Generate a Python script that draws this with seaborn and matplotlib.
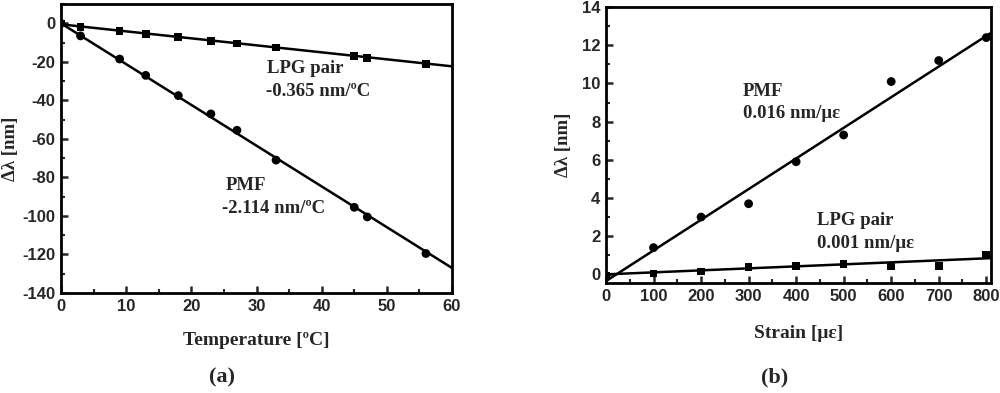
import numpy as np
import pandas as pd
import matplotlib
matplotlib.use("Agg")
import matplotlib.pyplot as plt
from matplotlib.ticker import MultipleLocator
import seaborn as sns

sns.set_style("ticks")
plt.rcParams['font.family'] = ['Liberation Sans', 'DejaVu Sans']
plt.rcParams['axes.unicode_minus'] = False

# (a) temperature response
temp = [0, 3, 9, 13, 18, 23, 27, 33, 45, 47, 56]
lpg_temp = [0, -2, -4, -5.5, -7, -9, -10.5, -12.5, -17, -18, -21]
pmf_temp = [0, -6.5, -18.5, -27, -37.5, -47, -55.5, -71, -95.5, -100.5, -119.5]
fit_temp_x = [0, 60]
lpg_temp_fit = [-0.5, -22.3]
pmf_temp_fit = [0, -127]

# (b) strain response
strain = [0, 100, 200, 300, 400, 500, 600, 700, 800]
pmf_strain = [-0.15, 1.4, 3.0, 3.7, 5.9, 7.3, 10.1, 11.2, 12.4]
lpg_strain = [-0.1, 0.05, 0.15, 0.4, 0.45, 0.55, 0.45, 0.45, 1.0]
fit_strain_x = [0, 810]
pmf_strain_fit = [-0.35, 12.65]
lpg_strain_fit = [0.0, 0.85]

serif = dict(family='Liberation Serif', fontweight='bold')

fig = plt.figure(figsize=(10, 3.93), dpi=100)
ax1 = fig.add_axes([0.061, 0.2545, 0.391, 0.735])
ax2 = fig.add_axes([0.606, 0.28, 0.385, 0.702])

# panel a
sns.lineplot(x=fit_temp_x, y=lpg_temp_fit, color='black', lw=1.8, ax=ax1)
sns.lineplot(x=fit_temp_x, y=pmf_temp_fit, color='black', lw=1.8, ax=ax1)
sns.scatterplot(x=temp, y=lpg_temp, marker='s', s=30, color='black', edgecolor='none', ax=ax1)
sns.scatterplot(x=temp, y=pmf_temp, marker='o', s=40, color='black', edgecolor='none', ax=ax1)
ax1.set_xlim(0, 60)
ax1.set_ylim(-140, 10)
ax1.xaxis.set_major_locator(MultipleLocator(10))
ax1.xaxis.set_minor_locator(MultipleLocator(5))
ax1.yaxis.set_major_locator(MultipleLocator(20))
ax1.yaxis.set_minor_locator(MultipleLocator(10))
ax1.text(31.6, -23.5, 'LPG pair', fontsize=13.5, va='center', **serif)
ax1.text(31.4, -35.4, '-0.365 nm/ºC', fontsize=13.5, va='center', **serif)
ax1.text(25.3, -84, 'PMF', fontsize=13.5, va='center', **serif)
ax1.text(24.7, -96, '-2.114 nm/ºC', fontsize=13.5, va='center', **serif)
ax1.set_xlabel('Temperature [ºC]', fontsize=14, **serif)
ax1.set_ylabel('Δλ [nm]', fontsize=13.5, **serif)
ax1.xaxis.set_label_coords(0.5, -0.135)
ax1.yaxis.set_label_coords(-0.108, 0.5)

# panel b
sns.lineplot(x=fit_strain_x, y=pmf_strain_fit, color='black', lw=1.8, ax=ax2)
sns.lineplot(x=fit_strain_x, y=lpg_strain_fit, color='black', lw=1.8, ax=ax2)
sns.scatterplot(x=strain, y=pmf_strain, marker='o', s=40, color='black', edgecolor='none', ax=ax2)
sns.scatterplot(x=strain, y=lpg_strain, marker='s', s=30, color='black', edgecolor='none', ax=ax2)
ax2.set_xlim(0, 810)
ax2.set_ylim(-0.45, 14)
ax2.xaxis.set_major_locator(MultipleLocator(100))
ax2.xaxis.set_minor_locator(MultipleLocator(50))
ax2.yaxis.set_major_locator(MultipleLocator(2))
ax2.yaxis.set_minor_locator(MultipleLocator(1))
ax2.text(288, 9.6, 'PMF', fontsize=13.5, va='center', **serif)
ax2.text(288, 8.4, '0.016 nm/με', fontsize=13.5, va='center', **serif)
ax2.text(443, 2.8, 'LPG pair', fontsize=13.5, va='center', **serif)
ax2.text(443, 1.6, '0.001 nm/με', fontsize=13.5, va='center', **serif)
ax2.set_xlabel('Strain [με]', fontsize=14, **serif)
ax2.set_ylabel('Δλ [nm]', fontsize=13.5, **serif)
ax2.xaxis.set_label_coords(0.5, -0.152)
ax2.yaxis.set_label_coords(-0.088, 0.5)

for ax in (ax1, ax2):
    for sp in ax.spines.values():
        sp.set_linewidth(2)
        sp.set_color('black')
    ax.tick_params(which='major', direction='in', length=5, width=1.8,
                   labelsize=12, pad=4, top=False, right=False)
    ax.tick_params(which='minor', direction='in', length=3, width=1.5)
    for lab in ax.get_xticklabels() + ax.get_yticklabels():
        lab.set_fontweight('bold')

fig.text(0.222, 0.04, '(a)', ha='center', va='center', fontsize=16, **serif)
fig.text(0.775, 0.04, '(b)', ha='center', va='center', fontsize=16, **serif)

fig.savefig('out.png', dpi=100)
